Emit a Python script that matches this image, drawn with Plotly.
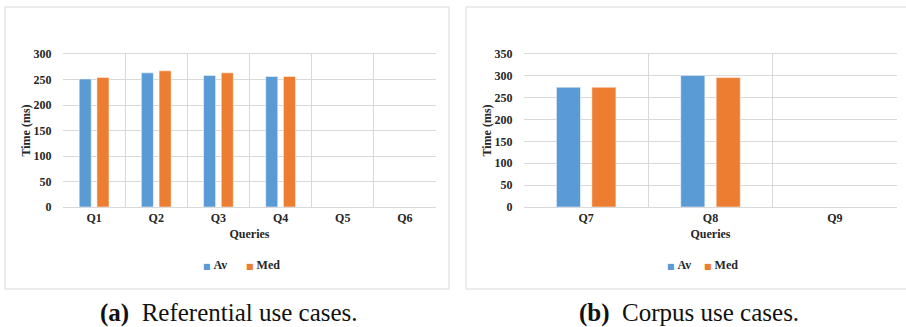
import plotly.graph_objects as go

# Data
ref_queries = ["Q1", "Q2", "Q3", "Q4", "Q5", "Q6"]
ref_av = [251, 263, 258, 256, None, None]
ref_med = [254, 267, 263, 256, None, None]

corp_queries = ["Q7", "Q8", "Q9"]
corp_av = [274, 301, None]
corp_med = [274, 296, None]

series_names = ["Av", "Med"]
ref_ticks = [0, 50, 100, 150, 200, 250, 300]
corp_ticks = [0, 50, 100, 150, 200, 250, 300, 350]

blue = "#5B9BD5"
orange = "#ED7D31"
colors = [blue, orange]
grid = "#D9D9D9"
serif = "Liberation Serif"
W, H = 906, 327

fig = go.Figure()
fig.add_trace(go.Bar(x=ref_queries, y=ref_av, name=series_names[0], marker=dict(color=blue, line=dict(color="white", width=0.5)), xaxis="x", yaxis="y"))
fig.add_trace(go.Bar(x=ref_queries, y=ref_med, name=series_names[1], marker=dict(color=orange, line=dict(color="white", width=0.5)), xaxis="x", yaxis="y"))
fig.add_trace(go.Bar(x=corp_queries, y=corp_av, name=series_names[0], marker=dict(color=blue, line=dict(color="white", width=0.5)), xaxis="x2", yaxis="y2"))
fig.add_trace(go.Bar(x=corp_queries, y=corp_med, name=series_names[1], marker=dict(color=orange, line=dict(color="white", width=0.5)), xaxis="x2", yaxis="y2"))

def px_x(p):
    return p / W

def px_y(p):
    return 1 - p / H

tickfont = dict(family=serif, size=12, color="#262626")
titlefont = dict(family=serif, size=12, color="#262626")

xcommon = dict(type="category", tickson="boundaries", showgrid=True, gridcolor=grid, gridwidth=1,
               showline=True, mirror=True, linecolor=grid, linewidth=1,
               ticks="outside", ticklen=4, tickcolor="rgba(0,0,0,0)", tickfont=tickfont,
               tickprefix="<b>", ticksuffix="</b>",
               title=dict(text="<b>Queries</b>", font=titlefont, standoff=5), zeroline=False, automargin=False)
ycommon = dict(showgrid=True, gridcolor=grid, gridwidth=1, tickfont=tickfont,
               showline=False, ticks="outside", tickcolor="rgba(0,0,0,0)", ticklen=8,
               title=dict(text="<b>Time (ms)</b>", font=titlefont, standoff=0), zeroline=False, automargin=False)

fig.update_layout(
    width=W, height=H, margin=dict(l=0, r=0, t=0, b=0),
    paper_bgcolor="white", plot_bgcolor="white",
    barmode="group", bargap=0.43, bargroupgap=0.32,
    showlegend=False,
    xaxis=dict(domain=[px_x(63), px_x(436)], anchor="y", categoryorder="array", categoryarray=ref_queries,
               range=[-0.5, 5.5], **xcommon),
    yaxis=dict(domain=[px_y(207), px_y(54)], anchor="x", range=[0, 300],
               tickvals=ref_ticks, ticktext=["<b>%d</b>" % v for v in ref_ticks], **ycommon),
    xaxis2=dict(domain=[px_x(524), px_x(897)], anchor="y2", categoryorder="array", categoryarray=corp_queries,
                range=[-0.5, 2.5], **xcommon),
    yaxis2=dict(domain=[px_y(207), px_y(54)], anchor="x2", range=[0, 350],
                tickvals=corp_ticks, ticktext=["<b>%d</b>" % v for v in corp_ticks], **ycommon),
)

# legends (one per panel)
legfont = dict(family=serif, size=12, color="#262626")
for starts in ([201, 244], [665, 702]):
    for name, col, x0 in zip(series_names, colors, starts):
        fig.add_annotation(xref="paper", yref="paper", x=px_x(x0), y=px_y(265), xanchor="left", yanchor="middle",
                           text="<span style='color:%s;font-size:8px;font-family:DejaVu Sans'>■</span> <b>%s</b>" % (col, name),
                           showarrow=False, font=legfont)

# panel frames
fig.add_shape(type="rect", xref="paper", yref="paper", x0=px_x(5), x1=px_x(449), y0=px_y(289), y1=px_y(7),
              line=dict(color=grid, width=1), fillcolor="rgba(0,0,0,0)", layer="below")
fig.add_shape(type="rect", xref="paper", yref="paper", x0=px_x(466), x1=px_x(910), y0=px_y(289), y1=px_y(7),
              line=dict(color=grid, width=1), fillcolor="rgba(0,0,0,0)", layer="below")

# captions
capfont = dict(family="Liberation Serif", size=25, color="#111111")
fig.add_annotation(xref="paper", yref="paper", x=px_x(229), y=px_y(313), text="<b>(a)</b>  Referential use cases.",
                   showarrow=False, font=capfont, xanchor="center", yanchor="middle")
fig.add_annotation(xref="paper", yref="paper", x=px_x(689), y=px_y(313), text="<b>(b)</b>  Corpus use cases.",
                   showarrow=False, font=capfont, xanchor="center", yanchor="middle")

fig.write_html("out.html", config={"displayModeBar": False},
               post_script="document.body.style.margin='0';document.body.style.overflow='hidden';")
